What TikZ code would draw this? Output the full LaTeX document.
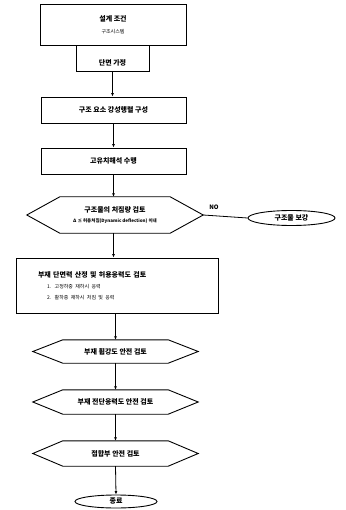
\documentclass[tikz,border=0pt]{standalone}
\usepackage{fontspec}
\newfontfamily\kr{Noto Sans CJK KR}
\usetikzlibrary{calc,arrows.meta,shapes.geometric}
\tikzset{
  box/.style={draw,line width=0.9pt,rectangle,inner sep=2pt,font=\kr\bfseries\fontsize{7}{8.5}\selectfont},
  hexnode/.style={rectangle,inner sep=1pt,font=\kr\bfseries\fontsize{7}{8.5}\selectfont,align=center},
  oval/.style={draw,line width=0.9pt,ellipse,inner sep=0pt,font=\kr\bfseries\fontsize{7}{8.5}\selectfont},
  hexline/.style={line width=0.9pt},
  arr/.style={line width=0.8pt,-{Latex[length=3.5pt,width=3pt]}},
  conn/.style={line width=0.8pt}
}
\newcommand{\hexdraw}[2]{%
  \draw[hexline] ($(#1.north west)+(#2,0)$) -- ($(#1.north east)-(#2,0)$) -- (#1.east)
    -- ($(#1.south east)-(#2,0)$) -- ($(#1.south west)+(#2,0)$) -- (#1.west) -- cycle;}
\begin{document}
\begin{tikzpicture}[x=1pt,y=-1pt]
\useasboundingbox[fill=white] (0,0) rectangle (345,510);
% boxes
\node[box,minimum width=146pt,minimum height=41pt,align=center] (b1) at (113,24.5)
  {설계 조건\\[3pt]{\fontsize{5}{6}\selectfont\mdseries 구조시스템}};
\node[box,minimum width=73pt,minimum height=26pt,text height=16pt,text depth=1.5pt] (b2) at (112.5,58) {단면 가정};
\node[box,minimum width=145pt,minimum height=26pt] (b3) at (113.5,110) {구조 요소 강성행렬 구성};
\node[box,minimum width=145pt,minimum height=26pt] (b4) at (113.5,161) {고유치해석 수행};
% decision
\node[hexnode,minimum width=176pt,minimum height=36pt] (h1) at (115,215)
  {구조물의 처짐량 검토\\[1pt]{\fontsize{4.5}{5}\selectfont Δ ≤ 허용처짐(Dynamic deflection) 이내}};
\hexdraw{h1}{33}
\node[font=\kr\bfseries\fontsize{6}{7}\selectfont,inner sep=0pt] (no) at (214,207) {NO};
\node[oval,minimum width=87pt,minimum height=15pt] (o1) at (291.5,218) {구조물 보강};
% member box
\node[box,minimum width=202pt,minimum height=55pt,text width=158pt,inner xsep=22pt,align=left] (b5) at (117,285.5)
  {부재 단면력 산정 및 허용응력도 검토\\[3pt]
   \hspace*{9pt}{\fontsize{5}{6}\selectfont\mdseries 1. 고정하중 재하시 응력}\\[2pt]
   \hspace*{9pt}{\fontsize{5}{6}\selectfont\mdseries 2. 활하중 재하시 처짐 및 응력}};
% checks
\node[hexnode,minimum width=165pt,minimum height=23pt] (h2) at (115.5,351.5) {부재 휨강도 안전 검토};
\hexdraw{h2}{30}
\node[hexnode,minimum width=165pt,minimum height=24pt] (h3) at (115.5,402) {부재 전단응력도 안전 검토};
\hexdraw{h3}{30}
\node[hexnode,minimum width=165pt,minimum height=25pt] (h4) at (115.5,453.5) {접합부 안전 검토};
\hexdraw{h4}{30}
\node[oval,minimum width=82pt,minimum height=13pt] (o2) at (116,501.5) {종료};
% connectors
\draw[arr] (b2.south) -- (b2.south |- b3.north);
\draw[arr] (b3.south) -- (b3.south |- b4.north);
\draw[arr] (b4.south) -- (b4.south |- h1.north);
\draw[arr] (h1.south -| b4.south) -- (b4.south |- b5.north);
\draw[conn] (h1.east) -- (o1.west);
\draw[arr] (b5.south -| h2.north) -- (h2.north);
\draw[arr] (h2.south) -- (h3.north);
\draw[arr] (h3.south) -- (h4.north);
\draw[arr] (h4.south) -- (o2.north);
\end{tikzpicture}
\end{document}
